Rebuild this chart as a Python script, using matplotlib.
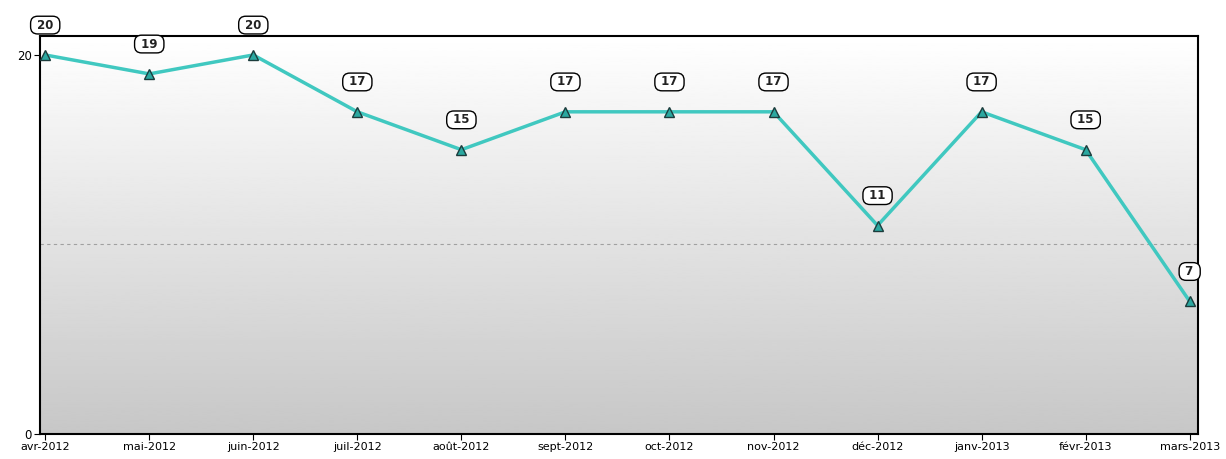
import numpy as np
import matplotlib.pyplot as plt

months = ['avr-2012', 'mai-2012', 'juin-2012', 'juil-2012', 'août-2012', 'sept-2012',
          'oct-2012', 'nov-2012', 'déc-2012', 'janv-2013', 'févr-2013', 'mars-2013']
values = [20, 19, 20, 17, 15, 17, 17, 17, 11, 17, 15, 7]

fig = plt.figure(figsize=(12.26, 4.59), dpi=100)
ax = fig.add_axes([40 / 1226, 25 / 459, 1158 / 1226, 398 / 459])

x = np.arange(len(values))
ax.set_xlim(-0.05, 11.08)
ax.set_ylim(0, 21)

# vertical gradient background
grad = np.linspace(0.78, 1.0, 256).reshape(-1, 1)
ax.imshow(grad, cmap='gray', vmin=0, vmax=1, aspect='auto',
          extent=[-0.05, 11.08, 0, 21], origin='lower', zorder=0)

ax.axhline(10, color='#a0a0a0', linestyle='--', linewidth=0.8, dashes=(3, 3), zorder=1)

ax.plot(x, values, color='#40c8c0', linewidth=2.5, zorder=2)
ax.plot(x, values, linestyle='none', marker='^', markersize=7,
        markerfacecolor='#2ba8a0', markeredgecolor='#1c3c3c', markeredgewidth=1, zorder=3)

for xi, v in zip(x, values):
    ax.annotate(' %d ' % v, (xi, v), xytext=(0, 21.5), textcoords='offset points',
                ha='center', va='center', fontsize=8.5, fontweight='bold', color='#222222',
                bbox=dict(boxstyle='round,pad=0.2,rounding_size=0.6', fc='white', ec='black', lw=1),
                annotation_clip=False, zorder=4)

ax.set_xticks(x)
ax.set_xticklabels(months, fontsize=8)
ax.set_yticks([0, 20])
ax.set_yticklabels(['0', '20'], fontsize=8.5)
ax.tick_params(length=4, width=0.8, pad=2)
for s in ax.spines.values():
    s.set_linewidth(1.5)

fig.savefig('out.png', dpi=100)
